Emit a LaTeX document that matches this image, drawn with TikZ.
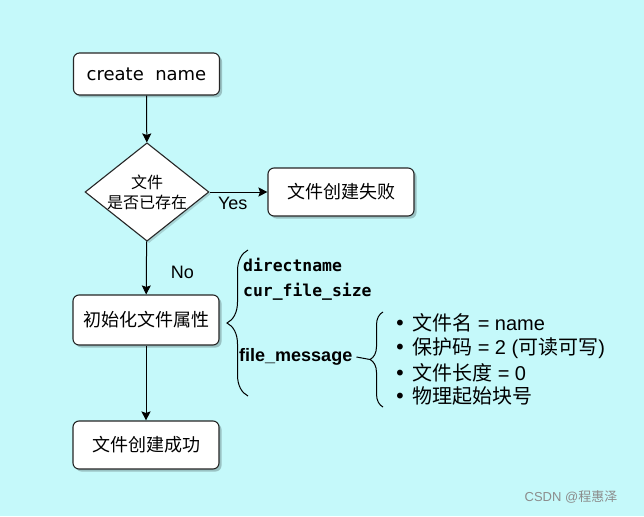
\documentclass[tikz,border=0pt]{standalone}
\usepackage{fontspec}
\setmainfont{DejaVu Sans}
\newfontfamily\cjk{Noto Sans CJK SC}
\newfontfamily\arial{Liberation Sans}
\newfontfamily\monob{DejaVu Sans Mono}
\usetikzlibrary{shapes.geometric,arrows.meta,shadows,decorations.pathreplacing}
\definecolor{bg}{RGB}{197,249,250}
\tikzset{
  box/.style={draw=black!85, line width=1.1pt, fill=white, rounded corners=6pt,
    minimum width=146pt, inner sep=0pt,
    drop shadow={shadow xshift=2.5pt, shadow yshift=-2.5pt, fill=black, opacity=0.22}},
  dia/.style={draw=black!85, line width=1.1pt, fill=white, diamond, aspect=1.26,
    inner sep=0pt, minimum width=121pt, minimum height=96pt,
    drop shadow={shadow xshift=2pt, shadow yshift=-2pt, fill=black, opacity=0.15}},
  arr/.style={draw=black, line width=1pt, -{Stealth[length=9pt,width=9pt,inset=1.5pt]}},
  lbl/.style={inner sep=0pt, font=\arial\fontsize{18}{22}\selectfont},
  big/.style={font=\cjk\fontsize{18}{22}\selectfont},
  codet/.style={anchor=west, inner sep=0pt, font=\monob\bfseries\fontsize{16.4}{20}\selectfont},
  bul/.style={anchor=west, inner sep=0pt, font=\fontsize{20}{24}\selectfont},
  bracea/.style={draw=black, line width=1pt, decorate, decoration={brace, amplitude=#1}},
}
\begin{document}
\begin{tikzpicture}[x=1pt,y=-1pt]
\useasboundingbox[fill=bg] (0,0) rectangle (644,516);

\node[box, minimum height=42pt, font=\fontsize{18}{22}\selectfont] (create) at (146.5,74) {create\ \ name};
\node[dia, align=center, font=\cjk\fontsize{16}{20}\selectfont] (check) at (147,192) {文件\\是否已存在};
\node[box, minimum height=48pt, big] (fail) at (341,192) {文件创建失败};
\node[box, minimum height=50pt, big] (init) at (146,320) {初始化文件属性};
\node[box, minimum height=48pt, big] (ok) at (146,445) {文件创建成功};

\draw[arr] (create) -- (check);
\draw[arr] (check) -- node[lbl, pos=0.4, below=5pt] (yes) {Yes} (fail);
\draw[arr] (check) -- node[lbl, pos=0.58, anchor=west, xshift=24pt] (no) {No} (init);
\draw[arr] (init) -- (ok);

% first brace
\coordinate (b1b) at (248,396);
\coordinate (b1t) at (248,250);
\draw[bracea=21pt] (b1b) -- (b1t);
\node[codet] (dn) at (243,265) {directname};
\node[codet] (cfs) at (243,292) {cur\_file\_size};
\node[anchor=west, inner sep=0pt, font=\arial\bfseries\fontsize{18}{22}\selectfont] (fm) at (239,357) {file\_message};

% second brace
\coordinate (b2b) at (383,407);
\coordinate (b2t) at (383,312);
\coordinate (b2tip) at (370,359.5);
\draw[bracea=13pt] (b2b) -- (b2t);
\draw[line width=1pt] ([xshift=4pt]fm.east) -- (b2tip);

\node[bul] (i1) at (394,323) {\makebox[18pt][l]{\textbullet}{\cjk 文件名}{\arial\ = name}};
\node[bul] (i2) at (394,348) {\makebox[18pt][l]{\textbullet}{\cjk 保护码}{\arial\ = 2 (}{\cjk 可读可写}{\arial )}};
\node[bul] (i3) at (394,373) {\makebox[18pt][l]{\textbullet}{\cjk 文件长度}{\arial\ = 0}};
\node[bul] (i4) at (394,396) {\makebox[18pt][l]{\textbullet}{\cjk 物理起始块号}};

\node[text=black!45, inner sep=0pt, font=\arial\fontsize{13}{15}\selectfont] (wm) at (571,497) {CSDN @{\cjk 程惠泽}};
\end{tikzpicture}
\end{document}
